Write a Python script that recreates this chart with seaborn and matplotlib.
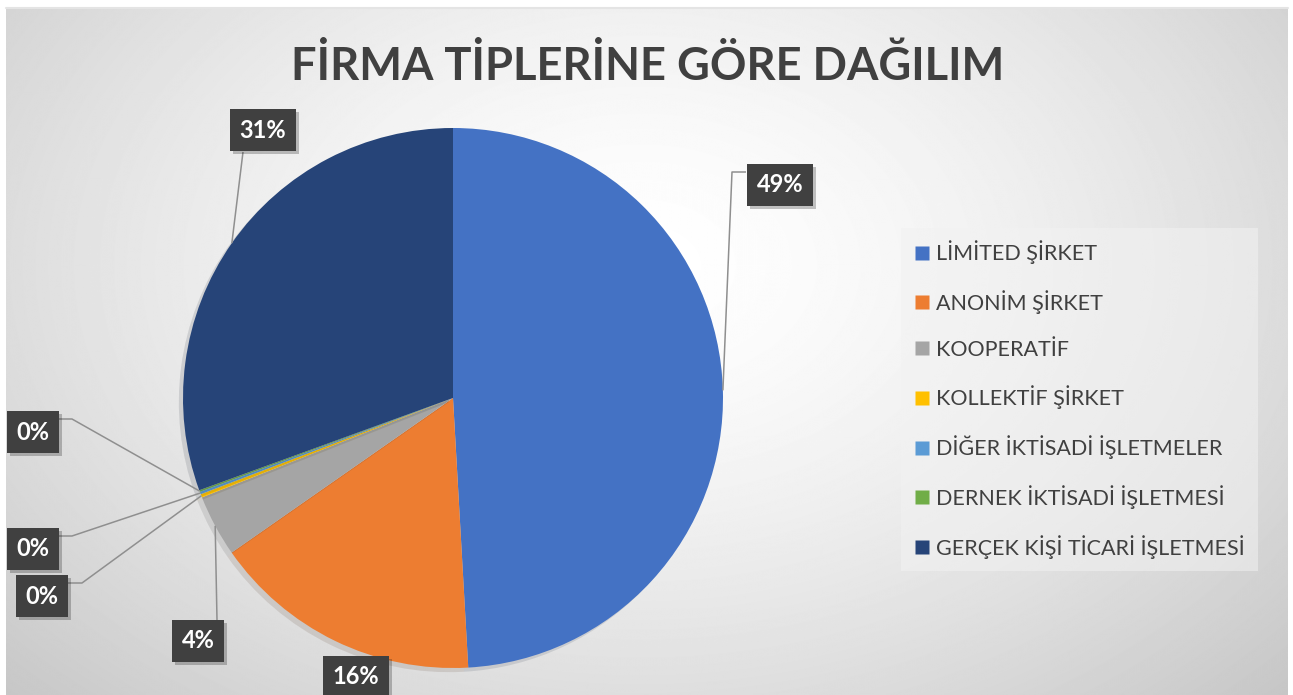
import numpy as np
import matplotlib
matplotlib.use("Agg")
import matplotlib.pyplot as plt
import matplotlib.patheffects as pe
from matplotlib.lines import Line2D
import seaborn as sns

# data
firm_types = ["LİMİTED ŞİRKET", "ANONİM ŞİRKET", "KOOPERATİF", "KOLLEKTİF ŞİRKET",
              "DİĞER İKTİSADİ İŞLETMELER", "DERNEK İKTİSADİ İŞLETMESİ",
              "GERÇEK KİŞİ TİCARİ İŞLETMESİ"]
shares = [49.1, 16.2, 3.7, 0.2, 0.15, 0.1, 30.55]
colors = ["#4472C4", "#ED7D31", "#A5A5A5", "#FFC000", "#5B9BD5", "#70AD47", "#264478"]
title = "FİRMA TİPLERİNE GÖRE DAĞILIM"

W, H = 1293, 695

# label layout in image pixels: box centre, line attach point, elbow point
label_layout = [
    ((780, 185), (746, 172), (732, 172)),
    ((356, 677), None, None),
    ((198, 641), (217, 620), None),
    ((42, 596), (68, 583), (82, 583)),
    ((33, 549), (59, 536), (72, 536)),
    ((33, 432), (59, 419), (72, 419)),
    ((263, 130), (243, 152), None),
]

sns.set_theme(style="white")
plt.rcParams["font.family"] = ["Lato", "DejaVu Sans"]

fig = plt.figure(figsize=(W / 100, H / 100), dpi=100)
fig.patch.set_facecolor("white")
ax = fig.add_axes([0, 0, 1, 1])

# radial grey background of the chart area
yy, xx = np.mgrid[0:H, 0:W]
d = np.sqrt(((xx - 640) / 750.0) ** 2 + ((yy - 260) / 520.0) ** 2)
bg = np.clip(1 - 0.17 * d ** 1.5, 0.74, 1.0)
ax.imshow(bg, cmap="gray", vmin=0, vmax=1, extent=(6, W - 5, 0, H - 8),
          origin="upper", zorder=0, interpolation="bilinear")
ax.plot([6, W - 5], [H - 8, H - 8], color="#e4e4e4", lw=1.5, zorder=1)

cx, cy, r = 453, H - 398, 270
wedges, _ = ax.pie(shares, colors=colors, startangle=90, counterclock=False,
                   center=(cx, cy), radius=r, wedgeprops=dict(linewidth=0))
for w in wedges:
    w.set_zorder(3)
    w.set_path_effects([pe.SimplePatchShadow(offset=(-3, -3), alpha=0.12), pe.Normal()])

ax.set_xlim(0, W)
ax.set_ylim(0, H)
ax.set_aspect("auto")
ax.axis("off")

total = sum(shares)
for w, val, (box, attach, elbow) in zip(wedges, shares, label_layout):
    mid = np.deg2rad((w.theta1 + w.theta2) / 2)
    ax_pt = (cx + r * np.cos(mid), cy + r * np.sin(mid))
    if attach is not None:
        xs = [attach[0]]
        ys = [H - attach[1]]
        if elbow is not None:
            xs.append(elbow[0])
            ys.append(H - elbow[1])
        xs.append(ax_pt[0])
        ys.append(ax_pt[1])
        ax.plot(xs, ys, color="#8f8f8f", lw=1.1, zorder=4, solid_capstyle="butt")
    t = ax.text(box[0], H - box[1], f"{val / total * 100:.0f}%", ha="center", va="center",
                color="white", fontsize=17, fontweight="bold", zorder=6,
                bbox=dict(boxstyle="square,pad=0.4", facecolor="#404040", edgecolor="none"))
    t.get_bbox_patch().set_path_effects([pe.SimplePatchShadow(offset=(2, -2), alpha=0.25), pe.Normal()])

fig.text(648 / W, 1 - 80 / H, title, ha="center", va="baseline",
         fontsize=32.6, fontweight="bold", color="#404040")

handles = [Line2D([], [], marker="s", linestyle="none", markersize=10,
                  markerfacecolor=c, markeredgecolor="none") for c in colors]
leg = fig.legend(handles, firm_types, loc="upper left",
                 bbox_to_anchor=(907 / W, 1 - 234 / H), borderaxespad=0, frameon=True,
                 fontsize=15.5, labelspacing=1.2, handlelength=0.75,
                 handletextpad=0.3, borderpad=0.3, labelcolor="#404040")
leg.get_frame().set_facecolor("#f2f2f2")
leg.get_frame().set_alpha(0.55)
leg.get_frame().set_edgecolor("none")
leg.get_frame().set_boxstyle("square")

fig.savefig("out.png", dpi=100)
